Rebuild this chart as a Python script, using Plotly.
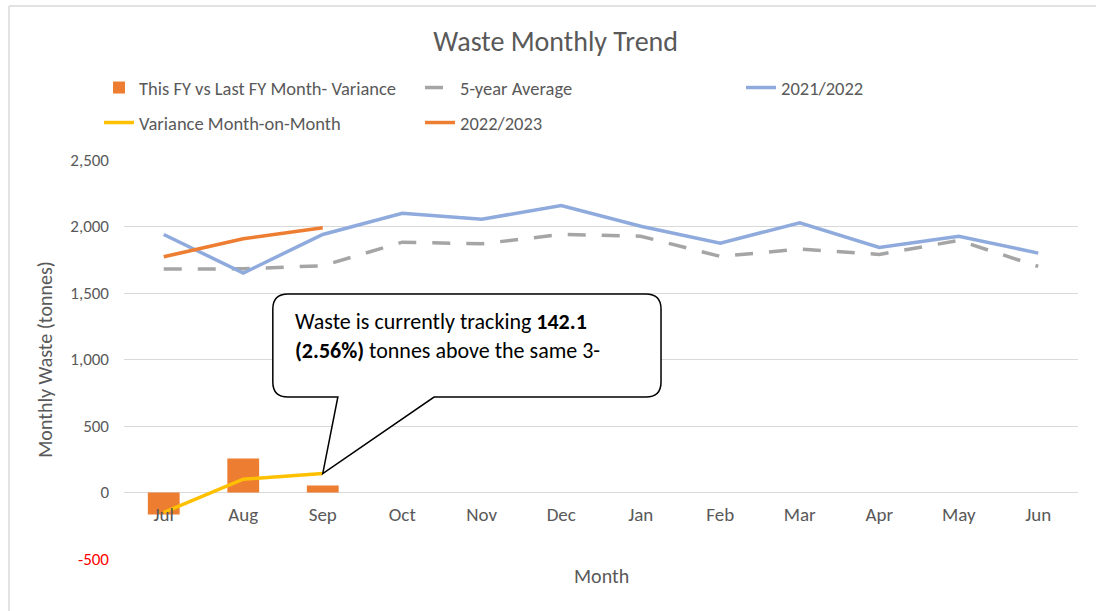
import plotly.graph_objects as go

months = ["Jul", "Aug", "Sep", "Oct", "Nov", "Dec", "Jan", "Feb", "Mar", "Apr", "May", "Jun"]
fy_variance = [-165, 256, 53]                      # This FY vs Last FY Month- Variance (bars)
five_year_avg = [1680, 1682, 1705, 1882, 1870, 1940, 1927, 1775, 1830, 1790, 1895, 1700]
fy_2021_22 = [1940, 1650, 1940, 2100, 2055, 2157, 2002, 1875, 2028, 1842, 1927, 1800]
variance_mom = [-150, 100, 142.1]
fy_2022_23 = [1772, 1908, 1990]

y_tick_vals = [-500, 0, 500, 1000, 1500, 2000, 2500]
y_tick_text = ['<span style="color:#FF0000">-500</span>', "0", "500", "1,000", "1,500", "2,000", "2,500"]

callout_line1 = "Waste is currently tracking <b>142.1</b>"
callout_line2 = "<b>(2.56%)</b> tonnes above the same 3-"

FONT = "Calibri, Carlito, Lato, sans-serif"
TXT = "#595959"

fig = go.Figure()
fig.add_trace(go.Bar(x=months[:len(fy_variance)], y=fy_variance, name="This FY vs Last FY Month- Variance",
                     marker=dict(color="#ED7D31", line=dict(width=0)), width=0.4, legend="legend"))
fig.add_trace(go.Scatter(x=months, y=five_year_avg, name="5-year Average", mode="lines",
                         line=dict(color="#A5A5A5", width=3.5, dash="18px,16px"), legend="legend"))
fig.add_trace(go.Scatter(x=months, y=fy_2021_22, name="2021/2022", mode="lines",
                         line=dict(color="#8FAADC", width=3.5), legend="legend"))
fig.add_trace(go.Scatter(x=months[:len(variance_mom)], y=variance_mom, name="Variance Month-on-Month", mode="lines",
                         line=dict(color="#FFC000", width=3.5), legend="legend2"))
fig.add_trace(go.Scatter(x=months[:len(fy_2022_23)], y=fy_2022_23, name="2022/2023", mode="lines",
                         line=dict(color="#ED7D31", width=3.5), legend="legend2"))

# callout geometry (category index / value units)
L, R, T, B = 1.372, 6.255, 1492, 718
rx, ry = 0.19, 113
p1, p2 = 2.19, 3.40
tip_x, tip_y = months.index("Sep"), variance_mom[2]
path = (f"M{L+rx},{T} L{R-rx},{T} Q{R},{T} {R},{T-ry} L{R},{B+ry} Q{R},{B} {R-rx},{B} "
        f"L{p2},{B} L{tip_x},{tip_y} L{p1},{B} L{L+rx},{B} Q{L},{B} {L},{B+ry} "
        f"L{L},{T-ry} Q{L},{T} {L+rx},{T} Z")

shapes = [
    dict(type="path", path=path, xref="x", yref="y", fillcolor="white",
         line=dict(color="black", width=1.5), layer="above"),
    # outer chart border (left and top visible)
    dict(type="line", xref="paper", yref="paper", x0=-0.1205, x1=-0.1205, y0=-0.2, y1=1.386,
         line=dict(color="#D9D9D9", width=1.5)),
    dict(type="line", xref="paper", yref="paper", x0=-0.1205, x1=1.1, y0=1.386, y1=1.386,
         line=dict(color="#D9D9D9", width=1.5)),
]

annotations = [
    dict(text=callout_line1, x=1.625, y=1282, xref="x", yref="y", xanchor="left", yanchor="middle",
         showarrow=False, font=dict(family=FONT, size=22, color="black")),
    dict(text=callout_line2, x=1.625, y=1071, xref="x", yref="y", xanchor="left", yanchor="middle",
         showarrow=False, font=dict(family=FONT, size=22, color="black")),
    dict(text="Month", x=0.5, y=-0.0426, xref="paper", yref="paper", xanchor="center", yanchor="middle",
         showarrow=False, font=dict(family=FONT, size=20, color=TXT)),
]

fig.update_layout(
    width=1096, height=611,
    margin=dict(l=124, r=18, t=160, b=52),
    paper_bgcolor="white", plot_bgcolor="white",
    font=dict(family=FONT, color=TXT, size=17),
    title=dict(text="Waste Monthly Trend", x=0.507, xref="container", xanchor="center",
               y=1 - 41 / 611, yref="container", yanchor="middle",
               font=dict(family=FONT, size=28, color=TXT)),
    xaxis=dict(type="category", range=[-0.5, 11.5], anchor="free", position=1 / 6, showgrid=False,
               showline=False, zeroline=False, ticks="", ticklabelstandoff=8,
               tickfont=dict(size=19, color=TXT)),
    yaxis=dict(range=[-500, 2500], tickvals=y_tick_vals, ticktext=y_tick_text, showgrid=True,
               gridcolor="#D9D9D9", gridwidth=1, zeroline=False, showline=False, ticks="",
               ticklabelstandoff=14, tickfont=dict(size=17, color=TXT),
               title=dict(text="Monthly Waste (tonnes)", font=dict(size=20, color=TXT), standoff=12)),
    legend=dict(orientation="h", x=-0.0262, y=(559 - 88) / 399, xanchor="left", yanchor="middle",
                entrywidth=276, font=dict(size=18.5, color=TXT), bgcolor="rgba(0,0,0,0)"),
    legend2=dict(orientation="h", x=-0.0262, y=(559 - 123) / 399, xanchor="left", yanchor="middle",
                 entrywidth=276, font=dict(size=18.5, color=TXT), bgcolor="rgba(0,0,0,0)"),
    shapes=shapes, annotations=annotations, showlegend=True, bargap=0.6,
)

fig.write_html("out.html", config={"displayModeBar": False},
               post_script="document.body.style.margin='0';document.body.style.overflow='hidden';")
